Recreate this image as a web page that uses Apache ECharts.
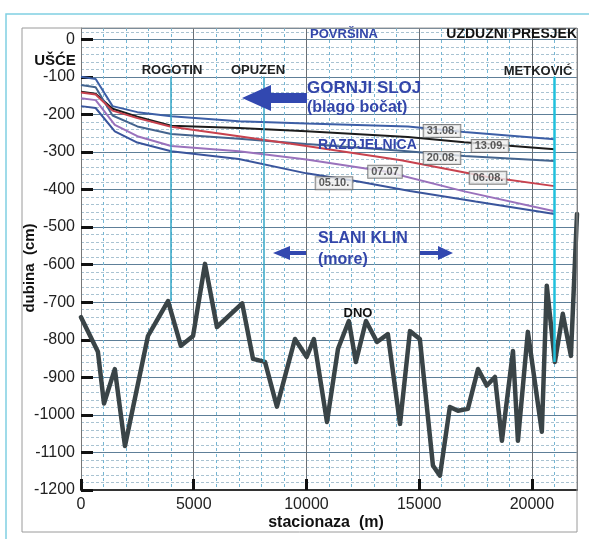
<!DOCTYPE html>
<html>
<head>
<meta charset="utf-8">
<script src="https://cdn.jsdelivr.net/npm/echarts@6/dist/echarts.min.js"></script>
<style>html,body{margin:0;padding:0;background:#fff}#c{width:589px;height:539px}</style>
</head>
<body>
<div id="c"></div>
<script>
// ---- data ----
const xTicks = [0, 5000, 10000, 15000, 20000];
const yTicks = [0,-100,-200,-300,-400,-500,-600,-700,-800,-900,-1000,-1100,-1200];

const line3108 = [[0,-100],[650,-106],[1400,-178],[2500,-194],[4000,-205],[7000,-218],[10000,-224],[14500,-232],[17000,-247],[21000,-266]];
const line1309 = [[0,-140],[650,-145],[1400,-185],[2500,-206],[4000,-230],[7000,-236],[10000,-245],[14500,-260],[17000,-274],[21000,-293]];
const line2008 = [[0,-122],[650,-128],[1400,-203],[2500,-232],[4000,-252],[7000,-265],[10000,-279],[14200,-297],[17000,-311],[21000,-324]];
const line0608 = [[0,-142],[650,-147],[1400,-190],[2500,-210],[4000,-233],[7000,-258],[10000,-284],[14200,-322],[18000,-366],[21000,-391]];
const line0707 = [[0,-157],[650,-162],[1500,-228],[2500,-258],[4000,-284],[7000,-298],[10000,-320],[13500,-352],[17000,-405],[21000,-458]];
const line0510 = [[0,-178],[650,-183],[1500,-245],[2500,-275],[4000,-298],[7000,-319],[10000,-357],[12240,-378],[14590,-404],[17500,-432],[21000,-465]];

const dno = [[0,-740],[750,-832],[1020,-970],[1500,-878],[1950,-1083],[2970,-790],[3400,-745],[3860,-697],[4430,-816],[4970,-790],[5500,-598],[6030,-766],[7150,-703],[7630,-851],[8160,-859],[8690,-978],[9490,-798],[10010,-846],[10330,-798],[10910,-1019],[11400,-824],[11880,-750],[12190,-859],[12640,-750],[13130,-806],[13610,-785],[14150,-1024],[14590,-777],[15030,-798],[15610,-1135],[15920,-1162],[16360,-979],[16720,-989],[17160,-984],[17610,-878],[18000,-922],[18360,-899],[18670,-1069],[19160,-830],[19380,-1069],[19820,-779],[20440,-1045],[20660,-656],[21020,-859],[21370,-731],[21730,-843],[22000,-465]];

const stations = [
  {name:'ROGOTIN', x:4000, top:-100, bottom:-697},
  {name:'OPUZEN', x:8100, top:-100, bottom:-859},
  {name:'METKOVIĆ', x:21000, top:-100, bottom:-859}
];

const dateLabels = [
  {name:'31.08.', value:[16012,-244]},
  {name:'13.09.', value:[18142,-284]},
  {name:'20.08.', value:[16012,-316]},
  {name:'07.07', value:[13484,-353]},
  {name:'06.08.', value:[18053,-369]},
  {name:'05.10.', value:[11222,-383]}
];

// ---- chart ----
const chart = echarts.init(document.getElementById('c'));
const F = '"Liberation Sans", Arial, sans-serif';
const blue = '#3346aa';

function layer(data, color, w) {
  return {type:'line', data:data, symbol:'none', silent:true, z:3,
    lineStyle:{color:color, width:w||2}};
}
function txt(x, y, text, font, fill, align, extra) {
  return Object.assign({type:'text', x:x, y:y, z:50, silent:true,
    style:{text:text, font:font, fill:fill, textAlign:align||'center', textVerticalAlign:'middle'}}, extra||{});
}

const option = {
  animation:false,
  backgroundColor:'#fff',
  grid:{left:81, right:12, top:28, bottom:49, show:false},
  xAxis:{
    type:'value', min:0, max:22000, interval:5000,
    axisLine:{show:true, onZero:false, lineStyle:{color:'#333', width:2}},
    axisTick:{show:true, inside:true, length:11, lineStyle:{color:'#111', width:3}},
    axisLabel:{fontFamily:F, fontSize:16, color:'#222', margin:7, showMaxLabel:false,
      formatter: v => String(v)},
    splitLine:{show:true, lineStyle:{color:'#6a6f74', width:1}},
    minorTick:{show:false, splitNumber:5},
    minorSplitLine:{show:true, lineStyle:{color:'#74b6d4', width:1, type:[3,3]}}
  },
  yAxis:{
    type:'value', min:-1200, max:30, interval:100,
    axisLine:{show:true, onZero:false, lineStyle:{color:'#777', width:1}},
    axisTick:{show:true, inside:true, length:12, lineStyle:{color:'#111', width:3}},
    axisLabel:{fontFamily:F, fontSize:16, color:'#222', margin:6, showMaxLabel:false,
      formatter: v => String(v)},
    splitLine:{show:true, lineStyle:{color:'#5e7f98', width:1}},
    minorTick:{show:false, splitNumber:5},
    minorSplitLine:{show:true, lineStyle:{color:'#a9c3d2', width:1, type:[3,2]}}
  },
  series:[
    layer(line3108,'#3d5fa6'),
    layer(line1309,'#1c1c1c'),
    layer(line2008,'#44648e'),
    layer(line0608,'#c8424e'),
    layer(line0707,'#9a72bc'),
    layer(line0510,'#3a559c'),
    {type:'line', data:dno, symbol:'none', silent:true, z:4,
      lineStyle:{color:'#3a4447', width:4.5, join:'round', cap:'round'}},
    {type:'line', data:[], symbol:'none', silent:true, z:5,
      markLine:{symbol:'none', silent:true, label:{show:false},
        data: stations.map((s,i)=>[
          {coord:[s.x,s.top], lineStyle:{color: i===2?'#1fc0dc':'#33a6c6', width: i===2?2.5:1.5, type:'solid'}},
          {coord:[s.x,s.bottom]}
        ])}},
    {type:'scatter', data:dateLabels, symbolSize:0, silent:true, z:10,
      label:{show:true, position:'inside', formatter:'{b}', fontFamily:F, fontSize:11, fontWeight:'bold',
        color:'#333', backgroundColor:'#efefef', borderColor:'#666', borderWidth:1, padding:[1,3,0,3]}}
  ],
  graphic:[
    {type:'rect', shape:{x:6, y:14, width:600, height:560}, style:{fill:'none', stroke:'#80d0e2', lineWidth:1.5}, silent:true, z:0},
    {type:'rect', shape:{x:22, y:28, width:555, height:504}, style:{fill:'none', stroke:'#9a9a9a', lineWidth:1}, silent:true, z:100},
    txt(55, 61, 'UŠĆE', 'bold 15px '+F, '#111'),
    txt(30, 268, 'dubina  (cm)', 'bold 15px '+F, '#111', 'center', {rotation:Math.PI/2}),
    txt(326, 523, 'stacionaza  (m)', 'bold 16px '+F, '#111'),
    txt(344, 34, 'POVRŠINA', 'bold 13px '+F, blue),
    txt(577, 34, 'UZDUZNI PRESJEK', 'bold 14px '+F, '#111', 'right'),
    txt(172, 70, 'ROGOTIN', 'bold 13px '+F, '#222'),
    txt(258, 70, 'OPUZEN', 'bold 13px '+F, '#222'),
    txt(538, 71, 'METKOVIĆ', 'bold 13px '+F, '#222'),
    txt(307, 88, 'GORNJI SLOJ', 'bold 17px '+F, blue, 'left'),
    txt(307, 108, '(blago bočat)', 'bold 16px '+F, blue, 'left'),
    txt(318, 145, 'RAZDJELNICA', 'bold 14px '+F, blue, 'left'),
    txt(318, 239, 'SLANI KLIN', 'bold 16px '+F, blue, 'left'),
    txt(318, 260, '(more)', 'bold 16px '+F, blue, 'left'),
    txt(358, 313, 'DNO', 'bold 13px '+F, '#111'),
    {type:'polygon', z:50, silent:true, shape:{points:[[242,98],[271,85],[271,93],[307,93],[307,103],[271,103],[271,111]]}, style:{fill:'#3248b0'}},
    {type:'polygon', z:50, silent:true, shape:{points:[[273,253],[290,246],[290,251],[306,251],[306,255],[290,255],[290,260]]}, style:{fill:'#3248b0'}},
    {type:'polygon', z:50, silent:true, shape:{points:[[420,251],[438,251],[438,246],[453,253],[438,260],[438,255],[420,255]]}, style:{fill:'#3248b0'}}
  ]
};
chart.setOption(option);
</script>
</body>
</html>
